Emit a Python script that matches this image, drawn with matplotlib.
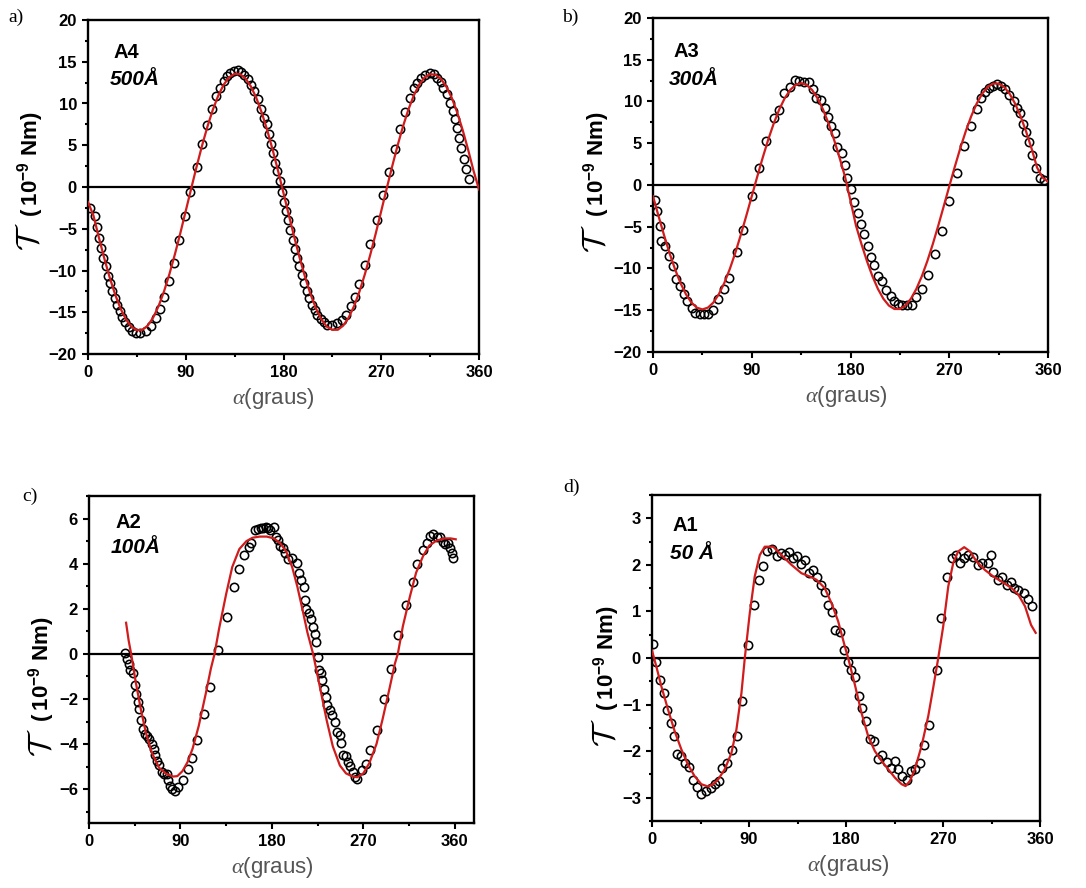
import numpy as np
import matplotlib.pyplot as plt
from matplotlib.ticker import MultipleLocator

plt.rcParams['font.family'] = ['Liberation Sans', 'DejaVu Sans']
plt.rcParams['mathtext.fontset'] = 'custom'
plt.rcParams['mathtext.rm'] = 'Liberation Sans:bold'
plt.rcParams['mathtext.it'] = 'Liberation Serif:italic'
plt.rcParams['mathtext.cal'] = 'cmsy10'
plt.rcParams['mathtext.default'] = 'rm'

# ---------------- dados (a) A4 500 Å ----------------
xa = [2.1, 6.1, 8.3, 10.1, 12, 13.8, 16.3, 18.1, 20.5, 22.4,
      24.5, 26.7, 29.1, 31.6, 34.3, 37.4, 40.5, 44.2, 48.1, 53,
      58, 62.6, 65.9, 69.9, 74.8, 78.8, 84, 89.5, 94.1, 100.3,
      104.9, 109.5, 114.4, 118.1, 121.7, 124.8, 127.9, 131, 134, 137.7,
      140.8, 143.8, 146.9, 150, 153, 156.1, 159.2, 162.2, 164.7, 166.5,
      168.4, 170.2, 171.9, 174.4, 176.9, 178.2, 180.6, 182.5, 184.3, 186.1,
      188.6, 190.4, 192.3, 194.1, 196.6, 199, 201.5, 203.9, 206.4, 208.8,
      211.3, 214.3, 217.4, 220.5, 224.5, 229.1, 233.7, 237.7, 242, 245.9,
      249.9, 255.1, 259.7, 265.9, 272, 277.2, 282.7, 287.3, 291.9, 296.5,
      300.2, 303.3, 306.3, 310.3, 314.9, 318.6, 321.7, 324.7, 327.2, 330.3,
      333.3, 335.8, 337.6, 339.5, 341.9, 343.8, 346.2, 348.1, 350.5]
ya = [-2.5, -3.5, -4.8, -6.1, -7.3, -8.5, -9.5, -10.6, -11.5, -12.4,
      -13.3, -14.1, -14.9, -15.6, -16.2, -16.8, -17.2, -17.5, -17.5, -17.3,
      -16.7, -15.7, -14.6, -13.2, -11.3, -9.1, -6.4, -3.5, -0.6, 2.4,
      5.1, 7.4, 9.3, 10.9, 11.9, 12.7, 13.3, 13.6, 13.9, 14,
      13.8, 13.4, 12.9, 12.2, 11.5, 10.5, 9.3, 8.3, 7.5, 6.3,
      5.2, 4.1, 2.9, 1.9, 0.7, -0.6, -1.8, -2.9, -4, -5.2,
      -6.3, -7.4, -8.5, -9.5, -10.5, -11.5, -12.4, -13.3, -14.1, -14.7,
      -15.3, -15.8, -16.2, -16.5, -16.5, -16.3, -15.9, -15.3, -14.3, -13.2,
      -11.6, -9.4, -6.8, -3.9, -1, 1.8, 4.6, 7, 9, 10.7,
      11.8, 12.5, 13, 13.4, 13.6, 13.5, 13.1, 12.6, 11.9, 11.1,
      10.1, 9.1, 8.1, 7.1, 5.9, 4.7, 3.3, 2.1, 0.9]
fit_xa = list(range(0, 361, 5))
fit_ya = [-1.8, -3.41, -6.04, -8.55, -10.85, -12.88, -14.57, -15.87, -16.74, -17.16,
          -17.12, -16.6, -15.64, -14.26, -12.5, -10.41, -8.06, -5.53, -2.87, -0.19,
          2.44, 4.95, 7.25, 9.28, 10.97, 12.27, 13.14, 13.56, 13.52, 13.0,
          12.04, 10.66, 8.9, 6.81, 4.46, 1.93, -0.73,
          -3.41, -6.04, -8.55, -10.85, -12.88, -14.57, -15.87, -16.74, -17.1,
          -17.1, -16.6, -15.64, -14.26, -12.5, -10.41, -8.06, -5.53, -2.87, -0.19,
          2.44, 4.95, 7.25, 9.28, 10.97, 12.27, 13.14, 13.5, 13.45, 12.95,
          12.0, 10.66, 8.9, 6.81, 4.46, 1.93, -0.3]

# ---------------- dados (b) A3 300 Å ----------------
xb = [1.5, 4, 6.1, 7.6, 11.3, 14.3, 18.3, 20.7, 24.4, 28.1,
      31.4, 35.1, 38.7, 42.7, 46.7, 50.3, 54.9, 59.5, 65, 69.3,
      76.3, 82.4, 90, 96.7, 102.8, 110.1, 115, 119.3, 125.1, 129,
      133.3, 137.3, 141.9, 145.8, 148.6, 153.4, 156.5, 159.5, 162.6, 165.7,
      168.1, 171.8, 174.8, 177.2, 180.3, 183.3, 186.4, 189.4, 192.5, 195.5,
      198.6, 201.6, 204.7, 209, 212.6, 216.6, 219.6, 223.6, 227.3, 231.8,
      235.8, 240.1, 245, 250.2, 257.2, 263.3, 270, 276.7, 283.7, 289.5,
      295, 299, 302.9, 306.6, 310.3, 313.3, 317.3, 321.2, 324.9, 328.6,
      332.2, 334.7, 337.1, 340.1, 342.6, 345.6, 348.7, 352.3, 356.5]
yb = [-1.76, -3.15, -4.95, -6.75, -7.35, -8.54, -9.66, -11.26, -12.1, -13.1,
      -13.9, -14.7, -15.3, -15.4, -15.4, -15.4, -15.0, -13.7, -12.5, -11.1,
      -8.06, -5.35, -1.36, 2.04, 5.23, 8.02, 9.02, 11.02, 11.74, 12.6,
      12.5, 12.3, 12.3, 11.5, 10.4, 10.2, 9.2, 8.2, 7.1, 6.2,
      4.6, 3.8, 2.4, 0.84, -0.48, -2.08, -3.35, -4.63, -5.83, -7.35,
      -8.62, -9.54, -10.86, -11.54, -12.54, -13.25, -13.93, -14.2, -14.33, -14.33,
      -14.33, -13.45, -12.45, -10.74, -8.22, -5.47, -1.96, 1.44, 4.63, 7.03,
      9.1, 10.4, 11.1, 11.6, 11.9, 12.1, 11.9, 11.5, 10.8, 10.0,
      9.2, 8.6, 7.35, 6.31, 5.11, 3.63, 2.04, 0.84, 0.6]
fit_xb = list(range(0, 361, 5))
fit_yb = [-1.35, -3.7, -5.98, -8.13, -10.06, -11.73, -13.08, -14.08, -14.69, -14.9,
          -14.69, -14.08, -13.08, -11.73, -10.06, -8.13, -5.98, -3.7, -1.35, 1.0,
          3.28, 5.43, 7.36, 9.03, 10.38, 11.38, 11.99, 12.2, 11.99, 11.38,
          10.38, 9.03, 7.36, 5.43, 3.28, 1.0, -1.9,
          -4.86, -7.08, -9.12, -10.93, -12.45, -13.63, -14.44, -14.85, -14.85,
          -14.44, -13.63, -12.45, -10.93, -9.12, -7.08, -4.86, -2.53, -0.17, 2.16,
          4.38, 6.42, 8.23, 9.75, 10.93, 11.74, 12.15, 12.15, 11.74, 10.93,
          9.75, 8.23, 6.42, 4.38, 2.1, 0.9, 0.4]

# ---------------- dados (c) A2 100 Å ----------------
xc = [35.5, 37.5, 39.1, 40.8, 43.7, 45, 46.4, 48, 49.6, 51.3,
      52.9, 54.9, 57.2, 59.5, 61.8, 63.5, 65.4, 67.4, 69.4, 71.7,
      73.6, 76.6, 78.2, 79.9, 81.9, 84.8, 88.1, 92.4, 97.3, 101.6,
      106.5, 113.1, 119.3, 127.2, 135.5, 142.7, 147.6, 152.5, 157.5, 159.8,
      163.7, 166.4, 169, 171.6, 173.9, 176.2, 178.5, 181.8, 183.8, 186.1,
      188.4, 191, 193.3, 195.9, 200.2, 204.8, 206.8, 209.1, 211.4, 212.4,
      214, 216.7, 218.3, 220.6, 222.3, 223.9, 225.5, 226.5, 228.2, 229.8,
      231.1, 233.1, 234.7, 237.7, 239.7, 242, 244.3, 246.9, 248.5, 250.2,
      252.8, 255.1, 257.4, 260, 261.7, 264.3, 268.3, 272.6, 277.1, 283.1,
      290.3, 296.9, 304.4, 311.7, 318.6, 323.2, 328.4, 333, 335.7, 338.9,
      342.2, 345.5, 348.2, 350.5, 353.1, 355.4, 357, 358.7]
yc = [0.04, -0.21, -0.46, -0.7, -0.84, -1.39, -1.79, -2.13, -2.43, -2.95,
      -3.32, -3.54, -3.66, -3.76, -3.99, -4.21, -4.5, -4.73, -4.95, -5.24,
      -5.32, -5.32, -5.61, -5.84, -5.99, -6.09, -5.91, -5.59, -5.1, -4.61,
      -3.84, -2.65, -1.47, 0.19, 1.64, 2.98, 3.75, 4.39, 4.73, 4.9,
      5.5, 5.53, 5.56, 5.6, 5.64, 5.57, 5.5, 5.61, 5.2, 5.05,
      4.79, 4.68, 4.46, 4.19, 4.24, 4.01, 3.6, 3.27, 2.98, 2.41,
      2.01, 1.79, 1.53, 1.2, 0.9, 0.53, -0.16, -0.7, -0.87, -1.14,
      -1.54, -1.91, -2.28, -2.47, -2.73, -3.02, -3.47, -3.61, -3.96, -4.5,
      -4.55, -4.8, -4.99, -5.24, -5.44, -5.54, -5.17, -4.87, -4.25, -3.36,
      -1.99, -0.68, 0.83, 2.16, 3.2, 3.99, 4.61, 4.93, 5.23, 5.3,
      5.2, 5.2, 4.98, 4.87, 4.9, 4.68, 4.46, 4.24]
fit_xc = [36.5, 39, 41.5, 46, 51, 56, 62, 69, 76, 83, 87, 92, 97, 102, 108,
          115, 120, 123.6, 128, 135, 141, 148, 155, 161, 168, 175, 182, 188, 194,
          200, 205, 210, 215, 220.6, 227, 234, 240, 247, 253, 259, 264, 270, 276,
          283, 289, 296, 301, 304, 309, 316, 322, 329, 335, 342, 350, 356, 361]
fit_yc = [1.38, 0.6, 0.0, -1.25, -2.45, -3.5, -4.4, -5.05, -5.32, -5.44, -5.42, -5.2,
          -4.8, -4.2, -3.2, -1.75, -0.65, 0.0, 1.1, 2.65, 3.85, 4.65, 5.0, 5.15, 5.2,
          5.2, 5.12, 4.92, 4.55, 3.85, 3.0, 2.0, 0.95, 0.0, -1.4, -2.95, -4.1, -4.95,
          -5.3, -5.43, -5.47, -5.3, -4.84, -4.0, -2.9, -1.5, -0.45, 0.0, 1.23, 2.56,
          3.6, 4.35, 4.8, 5.02, 5.12, 5.12, 5.08]

# ---------------- dados (d) A1 50 Å ----------------
xd = [0.9, 4, 7.1, 10.8, 14.2, 17.3, 20.4, 23.5, 27.2, 30.3,
      34, 38.4, 41.8, 45.8, 50.2, 54.5, 58.8, 61.9, 65.3, 69.9,
      74.3, 78.6, 83.9, 89.1, 94.4, 99.1, 103.4, 107.1, 111.4, 115.8,
      120.1, 123.2, 127.2, 131.2, 134.7, 138.1, 142.4, 145.8, 149.8, 153.5,
      157.2, 160.3, 163.4, 167.2, 170.2, 174.3, 178.3, 181.4, 185.1, 188.8,
      191.9, 195, 199, 202.1, 206.2, 209.3, 213.6, 217.6, 221.6, 225.3,
      228.4, 232.2, 236.2, 240.2, 243.9, 248.2, 252.6, 257.2, 264, 268.1,
      273.3, 278, 282, 285.7, 289.7, 293.4, 298, 302.1, 306.4, 311.4,
      314.5, 316.7, 320.7, 325, 329, 333.1, 336.2, 339.9, 345.4, 348.5, 352.3]
yd = [0.29, -0.09, -0.48, -0.75, -1.12, -1.39, -1.68, -2.07, -2.11, -2.25,
      -2.34, -2.61, -2.76, -2.93, -2.86, -2.79, -2.71, -2.64, -2.36, -2.26,
      -1.98, -1.68, -0.93, 0.27, 1.14, 1.68, 1.98, 2.29, 2.34, 2.18,
      2.25, 2.21, 2.28, 2.14, 2.18, 2.02, 2.11, 1.82, 1.89, 1.74,
      1.57, 1.41, 1.14, 0.98, 0.61, 0.55, 0.18, -0.09, -0.25, -0.41,
      -0.81, -1.07, -1.36, -1.73, -1.79, -2.16, -2.09, -2.24, -2.36, -2.22,
      -2.39, -2.54, -2.61, -2.43, -2.38, -2.25, -1.86, -1.44, -0.25, 0.86,
      1.73, 2.14, 2.21, 2.04, 2.14, 2.21, 2.16, 2.0, 2.04, 2.04,
      2.21, 1.84, 1.68, 1.74, 1.57, 1.64, 1.5, 1.45, 1.39, 1.26, 1.11]
fit_xd = [0, 4, 8.7, 14.9, 21, 27.2, 33.4, 39.6, 45.8, 52, 56.6, 61.3, 67.5, 73.7,
          78.3, 83, 86.1, 90.7, 95.3, 100, 104.6, 112.4, 120.1, 129.4, 138.7, 146.4,
          152.6, 160.3, 166.5, 172.7, 178.9, 182, 188.2, 194.4, 200.6, 206.8, 213,
          219.2, 225.4, 231.6, 235.3, 239.3, 243.9, 250.1, 256.3, 260.9, 265.6,
          270.2, 274.9, 279.5, 284.1, 289.7, 295, 301.2, 308.9, 316.7, 324.4,
          333.7, 339.9, 346.1, 351.7, 356]
fit_yd = [0.16, -0.18, -0.61, -1.11, -1.57, -1.96, -2.29, -2.54, -2.71, -2.76, -2.71,
          -2.61, -2.39, -2.04, -1.54, -0.75, 0.0, 0.96, 1.75, 2.21, 2.39, 2.39, 2.21,
          2.0, 1.82, 1.75, 1.68, 1.5, 1.18, 0.79, 0.25, 0.0, -0.57, -1.18, -1.68,
          -2.0, -2.21, -2.39, -2.57, -2.71, -2.75, -2.64, -2.39, -1.89, -1.25, -0.64,
          0.0, 0.68, 1.54, 2.04, 2.29, 2.38, 2.29, 2.07, 1.89, 1.75, 1.64, 1.5, 1.36,
          1.11, 0.71, 0.54]

W, H = 1086, 888


def box(left, right, top, bottom):
    return [left / W, 1 - bottom / H, (right - left) / W, (bottom - top) / H]


def painel(ax, x, y, fx, fy, xlim, ylim, major, minor, nome, esp, pos1, pos2,
           ylab_x, tau_y, unid_y, xlab_x):
    ax.plot(x, y, 'o', mfc='none', mec='black', ms=6.0, mew=1.15, zorder=3)
    ax.plot(fx, fy, '-', color='#d01c1c', lw=1.6, zorder=4)
    ax.axhline(0, color='black', lw=1.6, zorder=2)
    ax.set_xlim(*xlim)
    ax.set_ylim(*ylim)
    ax.xaxis.set_major_locator(MultipleLocator(90))
    ax.xaxis.set_minor_locator(MultipleLocator(45))
    ax.yaxis.set_major_locator(MultipleLocator(major))
    ax.yaxis.set_minor_locator(MultipleLocator(minor))
    for s in ax.spines.values():
        s.set_linewidth(1.7)
    ax.tick_params(which='both', direction='out', width=1.5, top=False, right=False,
                   labelsize=12)
    ax.tick_params(which='major', length=4.5)
    ax.tick_params(which='minor', length=2.5)
    for lab in ax.get_xticklabels() + ax.get_yticklabels():
        lab.set_fontweight('bold')
    ax.set_xlabel(r'$\mathit{\alpha}$(graus)', fontsize=16, color='#555555', labelpad=4)
    ax.xaxis.label.set_x(xlab_x)
    # eixo y: simbolo do torque maior que o resto do rotulo
    ax.text(ylab_x, tau_y, r'$\mathcal{T}$', transform=ax.transAxes, fontsize=23,
            rotation=90, ha='center', va='center')
    ax.text(ylab_x, unid_y, '(\u200910$^{-9}$ Nm)', transform=ax.transAxes, fontsize=16,
            fontweight='bold', rotation=90, ha='center', va='center')
    ax.text(pos1[0], pos1[1], nome, transform=ax.transAxes, fontsize=14.5,
            fontweight='bold', va='center', ha='left')
    ax.text(pos2[0], pos2[1], esp, transform=ax.transAxes, fontsize=15,
            fontweight='bold', style='italic', va='center', ha='left')


fig = plt.figure(figsize=(10.86, 8.88), dpi=100)

ax_a = fig.add_axes(box(88, 479, 20, 354))
painel(ax_a, xa, ya, fit_xa, fit_ya, (0, 360), (-20, 20), 5, 2.5,
       'A4', '500Å', (0.064, 0.904), (0.056, 0.823), -0.148, 0.352, 0.568, 0.473)

ax_b = fig.add_axes(box(653, 1048, 18, 352))
painel(ax_b, xb, yb, fit_xb, fit_yb, (0, 360), (-20, 20), 5, 2.5,
       'A3', '300Å', (0.051, 0.901), (0.041, 0.817), -0.142, 0.338, 0.561, 0.489)

ax_c = fig.add_axes(box(89, 474, 496, 823))
painel(ax_c, xc, yc, fit_xc, fit_yc, (0, 379), (-7.5, 7), 2, 1,
       'A2', '100Å', (0.068, 0.92), (0.055, 0.841), -0.122, 0.245, 0.47, 0.475)

ax_d = fig.add_axes(box(652, 1040, 495, 821))
painel(ax_d, xd, yd, fit_xd, fit_yd, (0, 360), (-3.5, 3.5), 1, 0.5,
       'A1', '50 Å', (0.052, 0.905), (0.046, 0.822), -0.116, 0.27, 0.498, 0.505)

for letra, px, py in [('a)', 8, 17), ('b)', 562, 17), ('c)', 22, 496), ('d)', 563, 487)]:
    fig.text(px / W, 1 - py / H, letra, family='Liberation Serif', fontsize=14,
             va='center', ha='left')

fig.savefig('out.png', dpi=100)
